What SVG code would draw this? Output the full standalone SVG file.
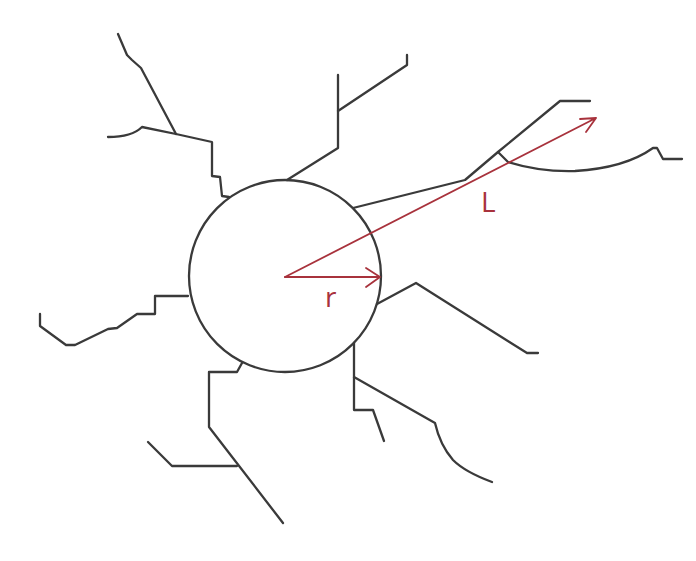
<svg xmlns="http://www.w3.org/2000/svg" width="696" height="561" viewBox="0 0 696 561">
<style>
.b{fill:none;stroke:#3a3a3a;stroke-width:2.3;stroke-linejoin:round;stroke-linecap:round}
.r{fill:none;stroke:#a8323c;stroke-width:1.8;stroke-linecap:round;stroke-linejoin:round}
.t{fill:#a8323c;font-family:"Open Sans","Liberation Sans",sans-serif;font-size:28px}
</style>
<rect width="696" height="561" fill="#ffffff"/>
<g id="branches">
<path class="b" d="M229,197 L222,196 L220,177 L212,176 L212,142 L176,134 L142,127 Q132,137 108,137"/>
<path class="b" d="M176,134 L141,68 L132,60 L127,55 L118,34"/>
<path class="b" d="M287,180 L338,148 L338,75"/>
<path class="b" d="M338,111 L407,65 L407,55"/>
<path class="b" d="M353,208 L465,180 L498,152 L560,101 L590,101"/>
<path class="b" d="M498,152 L508,162 Q540,172 575,171 Q625,168 653,148 L657,148 L663,159 L682,159"/>
<path class="b" d="M188,296 L155,296 L155,314 L137,314 L117,328 L108,329 L75,345 L66,345 L40,326 L40,314"/>
<path class="b" d="M242,363 L237,372 L209,372 L209,427 L283,523"/>
<path class="b" d="M237,466 L172,466 L148,442"/>
<path class="b" d="M377,304 L416,283 L527,353 L538,353"/>
<path class="b" d="M354,343 L354,410 L373,410 L384,441"/>
<path class="b" d="M354,377 L435,423 Q440,445 453,460 Q465,472 492,482"/>
</g>
<g id="circle">
<circle cx="285" cy="276" r="96" fill="none" stroke="#3a3a3a" stroke-width="2.3"/>
</g>
<g id="arrows">
<path class="r" d="M285,277 L380,277 M366,268 L380,277 L366,287"/>
<path class="r" d="M285,277 L596,118 M580,119 L596,118 L586,132"/>
<text class="t" x="325" y="307">r</text>
<text class="t" x="481" y="212">L</text>
</g>
</svg>
